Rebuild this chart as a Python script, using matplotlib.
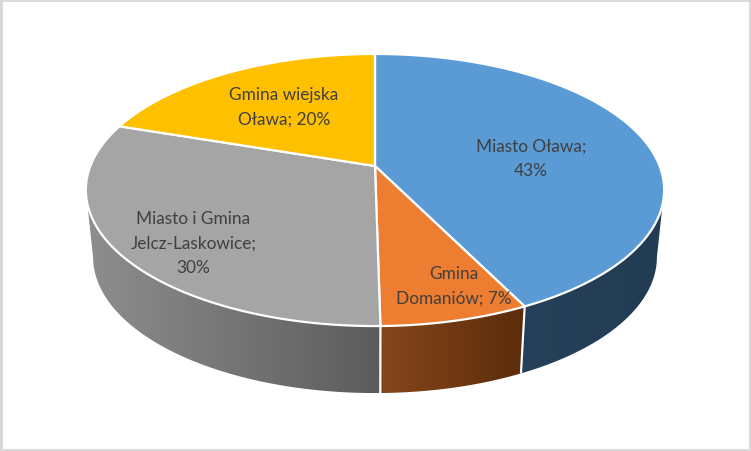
import numpy as np
import matplotlib
matplotlib.use("Agg")
import matplotlib.pyplot as plt
from matplotlib.patches import Polygon, Rectangle

categories = ["Miasto Oława", "Gmina Domaniów", "Miasto i Gmina Jelcz-Laskowice", "Gmina wiejska Oława"]
shares = [42.7, 7.05, 30.4, 19.85]
label_lines = [["Miasto Oława;", "43%"], ["Gmina", "Domaniów; 7%"],
               ["Miasto i Gmina", "Jelcz-Laskowice;", "30%"], ["Gmina wiejska", "Oława; 20%"]]
label_pos = [(531, 158.5), (454, 286.5), (193.5, 243.5), (284, 107.5)]
top_colors = ["#5b9bd5", "#ed7d31", "#a5a5a5", "#ffc000"]
side_left = ["#264059", "#86461c", "#8e8e8e", "#997300"]
side_right = ["#223c54", "#5c2c0a", "#5c5c5c", "#997300"]

W, H = 751, 452
fig = plt.figure(figsize=(W / 100, H / 100), dpi=100)
ax = fig.add_axes([0, 0, 1, 1])
ax.set_xlim(0, W)
ax.set_ylim(H, 0)
ax.axis("off")

CX, CY, A, B, K = 375.0, 167.0, 284.6, 131.8, 0.1765
DEPTH, TAPER = 67.0, 0.975


def project(theta, lower=False):
    X, Y = np.sin(theta), -np.cos(theta)
    w = 1 - K * Y
    x, y = A * X / w, CY + B * Y / w
    if lower:
        return CX + TAPER * x, y + DEPTH
    return CX + x, y


fracs = np.cumsum([0] + shares) / sum(shares)
edges = np.radians(fracs * 360)
arcs = [np.linspace(edges[i], edges[i + 1], 400) for i in range(len(shares))]
rgb = matplotlib.colors.to_rgb

# side walls, painted from back to front
for i in [0, 2, 1]:
    t = arcs[i]
    tx, ty = project(t)
    bx, by = project(t, lower=True)
    # keep only the rim in front of the widest points of the ellipse
    front = (-np.cos(t) >= K)
    tx, ty, bx, by = tx[front], ty[front], bx[front], by[front]
    pts = np.r_[np.c_[tx, ty], np.c_[bx, by][::-1]]
    x0, x1 = pts[:, 0].min(), pts[:, 0].max()
    y0, y1 = pts[:, 1].min(), pts[:, 1].max()
    c0, c1 = np.array(rgb(side_left[i])), np.array(rgb(side_right[i]))
    ramp = np.linspace(0, 1, 256)[:, None]
    grad = (c0 * (1 - ramp) + c1 * ramp)[None, :, :]
    im = ax.imshow(grad, extent=(x0, x1, y1, y0), aspect="auto", zorder=2, interpolation="bilinear")
    clip = Polygon(pts, closed=True, transform=ax.transData, fc="none", ec="none")
    ax.add_patch(clip)
    im.set_clip_path(clip)
    ax.set_xlim(0, W)
    ax.set_ylim(H, 0)
    # white separators between the visible wall segments
    if i == 1:
        for j in (0, -1):
            ax.plot([tx[j], bx[j]], [ty[j], by[j]], color="white", lw=1.6,
                    zorder=3, solid_capstyle="butt")

# top faces
for i in range(len(shares)):
    x, y = project(arcs[i])
    ax.add_patch(Polygon(np.r_[[[CX, CY]], np.c_[x, y]], closed=True, fc=top_colors[i],
                         ec="white", lw=1.6, joinstyle="round", zorder=4))

for lines, (lx, ly) in zip(label_lines, label_pos):
    ax.text(lx, ly, "\n".join(lines), ha="center", va="center", family="Lato", fontsize=12.4,
            color="#404040", linespacing=1.62, zorder=5)

ax.add_patch(Rectangle((0.5, 0.5), W - 1.5, H - 1.5, fc="none", ec="#d9d9d9", lw=2.2, zorder=6))
fig.savefig("out.png", dpi=100, facecolor="white")
